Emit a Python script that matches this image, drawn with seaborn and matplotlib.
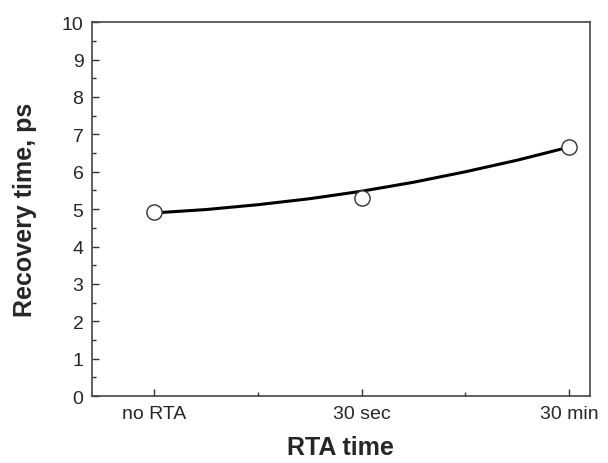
import matplotlib
matplotlib.use("Agg")
import matplotlib.pyplot as plt
import seaborn as sns
import pandas as pd
from matplotlib.ticker import MultipleLocator

categories = ["no RTA", "30 sec", "30 min"]
recovery_ps = [4.92, 5.29, 6.66]
# fitted curve
fit_pos = [0, 0.25, 0.5, 0.75, 1.0, 1.25, 1.5, 1.75, 2.0]
fit_val = [4.90, 4.99, 5.12, 5.28, 5.48, 5.72, 6.00, 6.31, 6.66]

sns.set_style("ticks")
plt.rcParams["font.family"] = ["Liberation Sans", "DejaVu Sans"]

fig = plt.figure(figsize=(6.08, 4.64), dpi=100)
ax = fig.add_axes([0.151, 0.144, 0.819, 0.806])

pts = pd.DataFrame({"pos": range(len(categories)), "val": recovery_ps})
fit = pd.DataFrame({"pos": fit_pos, "val": fit_val})

sns.lineplot(data=fit, x="pos", y="val", ax=ax, color="black", lw=2.2, zorder=2)
sns.scatterplot(data=pts, x="pos", y="val", ax=ax, s=120, marker="o",
                facecolor="white", edgecolor="#333333", linewidth=1.0, zorder=3)

ax.set_xlim(-0.3, 2.1)
ax.set_ylim(0, 10)
ax.set_xticks(range(len(categories)))
ax.set_xticklabels(categories)
ax.xaxis.set_minor_locator(MultipleLocator(0.5))
ax.yaxis.set_major_locator(MultipleLocator(1))
ax.yaxis.set_minor_locator(MultipleLocator(0.5))
ax.tick_params(which="both", direction="in", color="#333333")
ax.tick_params(which="major", length=5, width=1, labelsize=14, pad=6)
ax.tick_params(which="minor", length=3, width=1)
for s in ax.spines.values():
    s.set_color("#444444")
    s.set_linewidth(1.2)

ax.set_xlabel("RTA time", fontsize=18, fontweight="bold", labelpad=10)
ax.set_ylabel("Recovery time, ps", fontsize=18, fontweight="bold", labelpad=18)

fig.savefig("out.png", dpi=100)
